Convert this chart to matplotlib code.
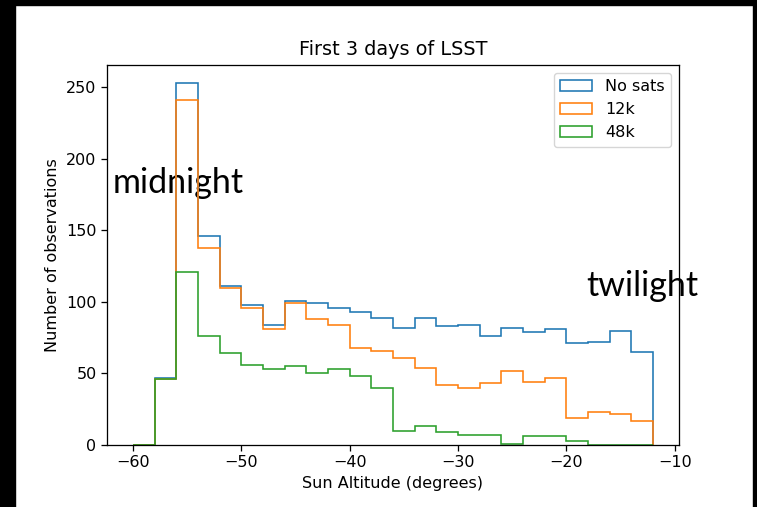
import numpy as np
import matplotlib
matplotlib.use("Agg")
import matplotlib.pyplot as plt
from matplotlib.patches import Rectangle

# Data
bin_edges = list(range(-60, -10, 2))  # -60 ... -12
no_sats = [0, 47, 253, 146, 111, 98, 84, 101, 99, 96, 93, 89, 82, 89, 83, 84, 76, 82, 79, 81, 71, 72, 80, 65]
sats_12k = [0, 46, 241, 138, 110, 96, 81, 99, 88, 84, 68, 66, 61, 54, 42, 40, 43, 52, 44, 47, 19, 23, 22, 17]
sats_48k = [0, 46, 121, 76, 64, 56, 53, 55, 50, 53, 48, 40, 10, 13, 9, 7, 7, 1, 6, 6, 3, 0, 0, 0]
series_labels = ["No sats", "12k", "48k"]

edges = np.array(bin_edges, dtype=float)
centers = (edges[:-1] + edges[1:]) / 2

S = 1.153
fig = plt.figure(figsize=(7.57, 5.07), dpi=100, facecolor="white")
ax = fig.add_axes([107/757, (507-445)/507, 572/757, 380/507])

for vals, lab in zip([no_sats, sats_12k, sats_48k], series_labels):
    ax.hist(centers, bins=edges, weights=vals, histtype="step", label=lab, linewidth=1.0*S)

ax.set_title("First 3 days of LSST", fontsize=12*S, pad=6*S)
ax.set_xlabel("Sun Altitude (degrees)", fontsize=10*S, labelpad=3.5*S)
ax.set_ylabel("Number of observations", fontsize=10*S, labelpad=3.5*S)
ax.tick_params(labelsize=10*S, length=3.5*S, width=0.8*S)
for sp in ax.spines.values():
    sp.set_linewidth(0.8*S)
ax.legend(loc="upper right", fontsize=10*S)

ax.text(-61.9, 176, "midnight", fontsize=24.5, family=["Lato", "DejaVu Sans"], zorder=0.5)
ax.text(-18.2, 104, "twilight", fontsize=24.5, family=["Lato", "DejaVu Sans"], zorder=0.5)

# black screenshot frame
for (x, y, w, h) in [(0, 0, 15/757, 1), (0, (507-5)/507, 1, 5/507), (753/757, 0, 4/757, 1)]:
    fig.patches.append(Rectangle((x, y), w, h, transform=fig.transFigure, color="black", zorder=10))

fig.savefig("out.png", dpi=100)
